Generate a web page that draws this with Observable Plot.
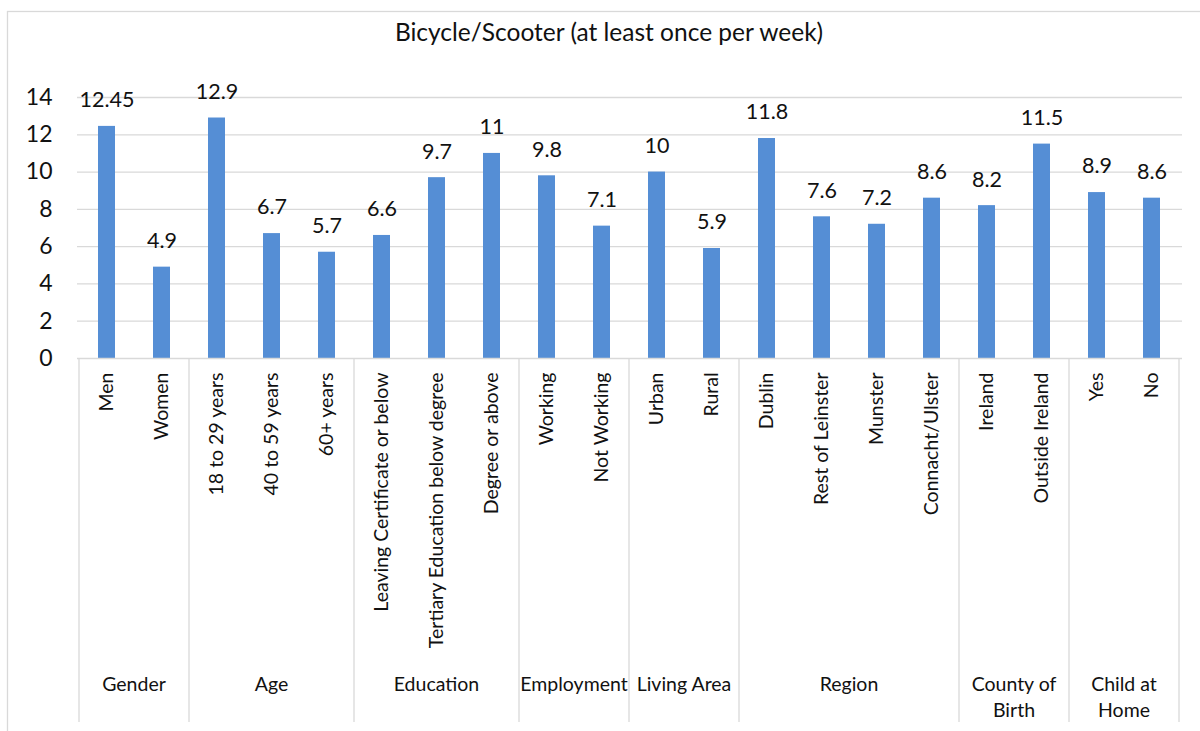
<!DOCTYPE html>
<html>
<head>
<meta charset="utf-8">
<script src="https://cdn.jsdelivr.net/npm/d3@7"></script>
<script src="https://cdn.jsdelivr.net/npm/@observablehq/plot@0.6"></script>
<style>
  html, body { margin: 0; padding: 0; background: #fff; }
  #chart svg { display: block; }
</style>
</head>
<body>
<div id="chart"></div>
<script>
const title = "Bicycle/Scooter (at least once per week)";
const categories = ["Men","Women","18 to 29 years","40 to 59 years","60+ years",
  "Leaving Certificate or below","Tertiary Education below degree","Degree or above",
  "Working","Not Working","Urban","Rural",
  "Dublin","Rest of Leinster","Munster","Connacht/Ulster",
  "Ireland","Outside Ireland","Yes","No"];
const values = [12.45,4.9,12.9,6.7,5.7,6.6,9.7,11,9.8,7.1,10,5.9,11.8,7.6,7.2,8.6,8.2,11.5,8.9,8.6];
const groups = ["Gender","Age","Education","Employment","Living Area","Region","County of\nBirth","Child at\nHome"];
const groupSizes = [2,3,3,2,2,4,2,2];
const yTicks = [0,2,4,6,8,10,12,14];

const data = categories.map((c, i) => ({category: c, value: values[i]}));

const font = "Lato, 'Open Sans', sans-serif";
const textColor = "#111";
const lineColor = "#d9d9d9";

const chart = Plot.plot({
  width: 1200,
  height: 731,
  marginLeft: 77,
  marginRight: 18,
  marginTop: 97,
  marginBottom: 373,
  style: {fontFamily: font, color: textColor, background: "#fff"},
  x: {domain: categories, paddingInner: 0.69, paddingOuter: 0.345},
  y: {domain: [0, 14]},
  marks: [
    Plot.gridY(yTicks.filter(d => d > 0), {stroke: lineColor, strokeOpacity: 1, strokeWidth: 1.3}),
    Plot.barY(data, {x: "category", y: "value", fill: "#558ed5"}),
    Plot.ruleY([0], {stroke: lineColor, strokeWidth: 1.3}),
    Plot.text(data, {x: "category", y: "value", text: d => String(d.value), dy: -26, fontSize: 21.5, fill: textColor, lineAnchor: "middle"}),
    Plot.axisY({ticks: yTicks, tickSize: 0, tickPadding: 25, fontSize: 23, label: null, tickFormat: d => String(d), fill: textColor}),
    Plot.axisX({tickSize: 0, tickRotate: -90, tickPadding: 14, fontSize: 19.5, label: null, fill: textColor}),
    Plot.text([title], {frameAnchor: "top", dy: -64, dx: -21, fontSize: 24.5, fill: textColor, lineAnchor: "middle"})
  ]
});

const svg = d3.select(chart);
const xs = chart.scale("x");
const center = c => xs.apply(c) + xs.bandwidth / 2;
const y0 = 358, yBottom = 722;

// outer border
svg.insert("rect", ":first-child")
  .attr("x", 7.5).attr("y", 11.5).attr("width", 1200).attr("height", 730)
  .attr("fill", "none").attr("stroke", lineColor).attr("stroke-width", 1.3);

let start = 0;
const boundaries = [];
const groupCenters = [];
groupSizes.forEach((n, gi) => {
  const first = categories[start], last = categories[start + n - 1];
  boundaries.push(center(first) - xs.step / 2);
  groupCenters.push((center(first) + center(last)) / 2);
  start += n;
});
boundaries.push(center(categories[categories.length - 1]) + xs.step / 2);

svg.append("g").selectAll("line").data(boundaries).join("line")
  .attr("x1", d => d).attr("x2", d => d)
  .attr("y1", y0).attr("y2", yBottom)
  .attr("stroke", lineColor).attr("stroke-width", 1.3);

const gl = svg.append("g")
  .attr("font-family", font).attr("font-size", 19.5).attr("fill", textColor)
  .attr("text-anchor", "middle");
groups.forEach((g, i) => {
  const lines = g.split("\n");
  const t = gl.append("text").attr("x", groupCenters[i]).attr("y", 690);
  lines.forEach((ln, j) => {
    t.append("tspan").attr("x", groupCenters[i]).attr("y", 690.5 + j * 26).text(ln);
  });
});

document.getElementById("chart").appendChild(chart);
</script>
</body>
</html>
